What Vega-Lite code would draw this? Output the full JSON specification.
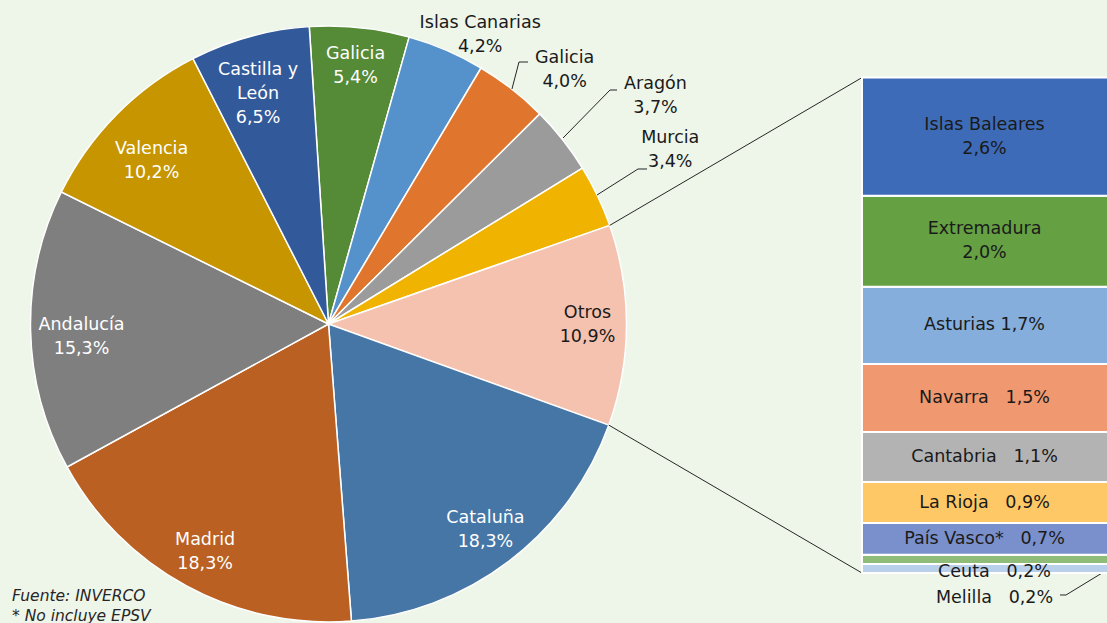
{
  "$schema": "https://vega.github.io/schema/vega-lite/v6.json",
  "width": 1107,
  "height": 623,
  "padding": 0,
  "autosize": {"type": "none"},
  "background": "#eef5e9",
  "config": {"view": {"stroke": null}, "text": {"font": "DejaVu Sans"}},
  "datasets": {
    "pie": [
      {"id": 1, "name": "Galicia", "value": 5.4, "label": "Galicia\n5,4%"},
      {"id": 2, "name": "Islas Canarias", "value": 4.2, "label": "Islas Canarias\n4,2%"},
      {"id": 3, "name": "Galicia", "value": 4.0, "label": "Galicia\n4,0%"},
      {"id": 4, "name": "Aragón", "value": 3.7, "label": "Aragón\n3,7%"},
      {"id": 5, "name": "Murcia", "value": 3.4, "label": "Murcia\n3,4%"},
      {"id": 6, "name": "Otros", "value": 10.9, "label": "Otros\n10,9%"},
      {"id": 7, "name": "Cataluña", "value": 18.3, "label": "Cataluña\n18,3%"},
      {"id": 8, "name": "Madrid", "value": 18.3, "label": "Madrid\n18,3%"},
      {"id": 9, "name": "Andalucía", "value": 15.3, "label": "Andalucía\n15,3%"},
      {"id": 10, "name": "Valencia", "value": 10.2, "label": "Valencia\n10,2%"},
      {"id": 11, "name": "Castilla y León", "value": 6.5, "label": "Castilla y\nLeón\n6,5%"}
    ],
    "bar": [
      {"id": 1, "name": "Melilla", "value": 0.2, "label": "Melilla\u00a0\u00a0 0,2%"},
      {"id": 2, "name": "Ceuta", "value": 0.2, "label": "Ceuta\u00a0\u00a0 0,2%"},
      {"id": 3, "name": "País Vasco*", "value": 0.7, "label": "País Vasco*\u00a0\u00a0 0,7%"},
      {"id": 4, "name": "La Rioja", "value": 0.9, "label": "La Rioja\u00a0\u00a0 0,9%"},
      {"id": 5, "name": "Cantabria", "value": 1.1, "label": "Cantabria\u00a0\u00a0 1,1%"},
      {"id": 6, "name": "Navarra", "value": 1.5, "label": "Navarra\u00a0\u00a0 1,5%"},
      {"id": 7, "name": "Asturias", "value": 1.7, "label": "Asturias 1,7%"},
      {"id": 8, "name": "Extremadura", "value": 2.0, "label": "Extremadura\n2,0%"},
      {"id": 9, "name": "Islas Baleares", "value": 2.6, "label": "Islas Baleares\n2,6%"}
    ],
    "lines": [
      {"g": "top", "i": 0, "u": 6.187, "v": 7.648},
      {"g": "top", "i": 1, "u": 11.738, "v": 10.9},
      {"g": "bot", "i": 0, "u": 6.167, "v": 3.254},
      {"g": "bot", "i": 1, "u": 11.738, "v": 0},
      {"g": "gal", "i": 0, "u": 4.037, "v": 10.649},
      {"g": "gal", "i": 1, "u": 4.191, "v": 11.243},
      {"g": "gal", "i": 2, "u": 4.389, "v": 11.243},
      {"g": "ara", "i": 0, "u": 5.160, "v": 9.571},
      {"g": "ara", "i": 1, "u": 6.194, "v": 10.627},
      {"g": "ara", "i": 2, "u": 6.348, "v": 10.627},
      {"g": "mur", "i": 0, "u": 5.908, "v": 8.317},
      {"g": "mur", "i": 1, "u": 6.810, "v": 8.889},
      {"g": "mur", "i": 2, "u": 7.008, "v": 8.889},
      {"g": "mel", "i": 0, "u": 16.095, "v": -0.484},
      {"g": "mel", "i": 1, "u": 16.227, "v": -0.484},
      {"g": "mel", "i": 2, "u": 17.129, "v": 0.066}
    ]
  },
  "resolve": {"scale": {"color": "independent"}},
  "layer": [
    {
      "data": {"name": "pie"},
      "transform": [{"stack": "value", "groupby": [], "sort": [{"field": "id", "order": "ascending"}], "as": ["p0", "p1"]}],
      "mark": {"type": "arc", "outerRadius": 298, "stroke": "white", "strokeWidth": 1.5},
      "encoding": {
        "x": {"datum": 0, "type": "quantitative", "scale": {"domain": [-7.2277, 17.1287], "nice": false, "zero": false}, "axis": null},
        "y": {"datum": 5.4785, "type": "quantitative", "scale": {"domain": [-1.1001, 12.6073], "nice": false, "zero": false}, "axis": null},
        "theta": {"field": "p0", "type": "quantitative", "stack": null, "scale": {"domain": [0, 100.2], "range": [-0.0646, 6.2186], "nice": false, "zero": true}},
        "theta2": {"field": "p1"},
        "color": {"field": "id", "type": "nominal", "legend": null,
          "scale": {"domain": [1, 2, 3, 4, 5, 6, 7, 8, 9, 10, 11],
            "range": ["#558a37", "#5592cb", "#e0762e", "#9b9b9b", "#f0b400", "#f5c2b0", "#4676a5", "#ba6022", "#7f7f7f", "#c69500", "#325a9a"]}}
      }
    },
    {
      "data": {"name": "lines"},
      "mark": {"type": "line", "color": "#262626", "strokeWidth": 1},
      "encoding": {
        "x": {"field": "u", "type": "quantitative", "scale": {"domain": [-7.2277, 17.1287], "nice": false, "zero": false}, "axis": null},
        "y": {"field": "v", "type": "quantitative", "scale": {"domain": [-1.1001, 12.6073], "nice": false, "zero": false}, "axis": null},
        "detail": {"field": "g"},
        "order": {"field": "i", "type": "quantitative"}
      }
    },
    {
      "data": {"name": "pie"},
      "transform": [
        {"stack": "value", "groupby": [], "sort": [{"field": "id", "order": "ascending"}], "as": ["p0", "p1"]},
        {"calculate": "(datum.p0 + datum.p1) / 2", "as": "pm"},
        {"filter": "indexof([1, 6, 7, 8], datum.id) >= 0"}
      ],
      "mark": {"type": "text", "radius": 259, "dy": -12, "lineBreak": "\n", "lineHeight": 24, "fontSize": 17.5, "align": "center", "baseline": "middle"},
      "encoding": {
        "x": {"datum": 0, "type": "quantitative", "scale": {"domain": [-7.2277, 17.1287], "nice": false, "zero": false}, "axis": null},
        "y": {"datum": 5.4785, "type": "quantitative", "scale": {"domain": [-1.1001, 12.6073], "nice": false, "zero": false}, "axis": null},
        "theta": {"field": "pm", "type": "quantitative", "stack": null},
        "text": {"field": "label"},
        "color": {"condition": {"test": "datum.id == 6", "value": "#1a1a1a"}, "value": "white"}
      }
    },
    {
      "data": {"name": "pie"},
      "transform": [
        {"stack": "value", "groupby": [], "sort": [{"field": "id", "order": "ascending"}], "as": ["p0", "p1"]},
        {"calculate": "(datum.p0 + datum.p1) / 2", "as": "pm"},
        {"filter": "indexof([9, 10], datum.id) >= 0"}
      ],
      "mark": {"type": "text", "radius": 243, "dx": -4, "dy": -4, "lineBreak": "\n", "lineHeight": 24, "fontSize": 17.5, "align": "center", "baseline": "middle", "color": "white"},
      "encoding": {
        "x": {"datum": 0, "type": "quantitative", "scale": {"domain": [-7.2277, 17.1287], "nice": false, "zero": false}, "axis": null},
        "y": {"datum": 5.4785, "type": "quantitative", "scale": {"domain": [-1.1001, 12.6073], "nice": false, "zero": false}, "axis": null},
        "theta": {"field": "pm", "type": "quantitative", "stack": null},
        "text": {"field": "label"}
      }
    },
    {
      "data": {"name": "pie"},
      "transform": [
        {"stack": "value", "groupby": [], "sort": [{"field": "id", "order": "ascending"}], "as": ["p0", "p1"]},
        {"calculate": "(datum.p0 + datum.p1) / 2", "as": "pm"},
        {"filter": "datum.id == 11"}
      ],
      "mark": {"type": "text", "radius": 243, "dx": -6, "dy": -20, "lineBreak": "\n", "lineHeight": 24, "fontSize": 17.5, "align": "center", "baseline": "middle", "color": "white"},
      "encoding": {
        "x": {"datum": 0, "type": "quantitative", "scale": {"domain": [-7.2277, 17.1287], "nice": false, "zero": false}, "axis": null},
        "y": {"datum": 5.4785, "type": "quantitative", "scale": {"domain": [-1.1001, 12.6073], "nice": false, "zero": false}, "axis": null},
        "theta": {"field": "pm", "type": "quantitative", "stack": null},
        "text": {"field": "label"}
      }
    },
    {
      "data": {"name": "pie"},
      "transform": [
        {"stack": "value", "groupby": [], "sort": [{"field": "id", "order": "ascending"}], "as": ["p0", "p1"]},
        {"calculate": "(datum.p0 + datum.p1) / 2", "as": "pm"},
        {"filter": "datum.id == 2"}
      ],
      "mark": {"type": "text", "radius": 316, "dx": 27, "dy": -11, "lineBreak": "\n", "lineHeight": 24, "fontSize": 17.5, "align": "center", "baseline": "middle", "color": "#1a1a1a"},
      "encoding": {
        "x": {"datum": 0, "type": "quantitative", "scale": {"domain": [-7.2277, 17.1287], "nice": false, "zero": false}, "axis": null},
        "y": {"datum": 5.4785, "type": "quantitative", "scale": {"domain": [-1.1001, 12.6073], "nice": false, "zero": false}, "axis": null},
        "theta": {"field": "pm", "type": "quantitative", "stack": null},
        "text": {"field": "label"}
      }
    },
    {
      "data": {"name": "pie"},
      "transform": [
        {"stack": "value", "groupby": [], "sort": [{"field": "id", "order": "ascending"}], "as": ["p0", "p1"]},
        {"calculate": "(datum.p0 + datum.p1) / 2", "as": "pm"},
        {"filter": "datum.id == 3"}
      ],
      "mark": {"type": "text", "radius": 322, "dx": 38, "dy": -12, "lineBreak": "\n", "lineHeight": 24, "fontSize": 17.5, "align": "center", "baseline": "middle", "color": "#1a1a1a"},
      "encoding": {
        "x": {"datum": 0, "type": "quantitative", "scale": {"domain": [-7.2277, 17.1287], "nice": false, "zero": false}, "axis": null},
        "y": {"datum": 5.4785, "type": "quantitative", "scale": {"domain": [-1.1001, 12.6073], "nice": false, "zero": false}, "axis": null},
        "theta": {"field": "pm", "type": "quantitative", "stack": null},
        "text": {"field": "label"}
      }
    },
    {
      "data": {"name": "pie"},
      "transform": [
        {"stack": "value", "groupby": [], "sort": [{"field": "id", "order": "ascending"}], "as": ["p0", "p1"]},
        {"calculate": "(datum.p0 + datum.p1) / 2", "as": "pm"},
        {"filter": "datum.id == 4"}
      ],
      "mark": {"type": "text", "radius": 369, "dx": 37, "dy": -12, "lineBreak": "\n", "lineHeight": 24, "fontSize": 17.5, "align": "center", "baseline": "middle", "color": "#1a1a1a"},
      "encoding": {
        "x": {"datum": 0, "type": "quantitative", "scale": {"domain": [-7.2277, 17.1287], "nice": false, "zero": false}, "axis": null},
        "y": {"datum": 5.4785, "type": "quantitative", "scale": {"domain": [-1.1001, 12.6073], "nice": false, "zero": false}, "axis": null},
        "theta": {"field": "pm", "type": "quantitative", "stack": null},
        "text": {"field": "label"}
      }
    },
    {
      "data": {"name": "pie"},
      "transform": [
        {"stack": "value", "groupby": [], "sort": [{"field": "id", "order": "ascending"}], "as": ["p0", "p1"]},
        {"calculate": "(datum.p0 + datum.p1) / 2", "as": "pm"},
        {"filter": "datum.id == 5"}
      ],
      "mark": {"type": "text", "radius": 405, "dx": -24, "dy": -12, "lineBreak": "\n", "lineHeight": 24, "fontSize": 17.5, "align": "center", "baseline": "middle", "color": "#1a1a1a"},
      "encoding": {
        "x": {"datum": 0, "type": "quantitative", "scale": {"domain": [-7.2277, 17.1287], "nice": false, "zero": false}, "axis": null},
        "y": {"datum": 5.4785, "type": "quantitative", "scale": {"domain": [-1.1001, 12.6073], "nice": false, "zero": false}, "axis": null},
        "theta": {"field": "pm", "type": "quantitative", "stack": null},
        "text": {"field": "label"}
      }
    },
    {
      "data": {"name": "bar"},
      "transform": [{"stack": "value", "groupby": [], "sort": [{"field": "id", "order": "ascending"}], "as": ["v0", "v1"]}],
      "mark": {"type": "rect", "stroke": "white", "strokeWidth": 2},
      "encoding": {
        "x": {"datum": 11.738, "type": "quantitative", "scale": {"domain": [-7.2277, 17.1287], "nice": false, "zero": false}, "axis": null},
        "x2": {"datum": 17.3},
        "y": {"field": "v0", "type": "quantitative", "scale": {"domain": [-1.1001, 12.6073], "nice": false, "zero": false}, "axis": null},
        "y2": {"field": "v1"},
        "color": {"field": "name", "type": "nominal", "legend": null,
          "scale": {"domain": ["Islas Baleares", "Extremadura", "Asturias", "Navarra", "Cantabria", "La Rioja", "País Vasco*", "Ceuta", "Melilla"],
            "range": ["#3e6bb7", "#65a043", "#85aedc", "#f0986f", "#b3b3b3", "#ffc866", "#7a90cc", "#8fbc78", "#b8d0ea"]}}
      }
    },
    {
      "data": {"name": "bar"},
      "transform": [
        {"stack": "value", "groupby": [], "sort": [{"field": "id", "order": "ascending"}], "as": ["v0", "v1"]},
        {"calculate": "(datum.v0 + datum.v1) / 2", "as": "vm"},
        {"filter": "datum.id >= 8"}
      ],
      "mark": {"type": "text", "dy": -12, "lineBreak": "\n", "lineHeight": 24, "fontSize": 17.5, "align": "center", "baseline": "middle", "color": "#1a1a1a"},
      "encoding": {
        "x": {"datum": 14.434, "type": "quantitative", "scale": {"domain": [-7.2277, 17.1287], "nice": false, "zero": false}, "axis": null},
        "y": {"field": "vm", "type": "quantitative", "scale": {"domain": [-1.1001, 12.6073], "nice": false, "zero": false}, "axis": null},
        "text": {"field": "label"}
      }
    },
    {
      "data": {"name": "bar"},
      "transform": [
        {"stack": "value", "groupby": [], "sort": [{"field": "id", "order": "ascending"}], "as": ["v0", "v1"]},
        {"calculate": "(datum.v0 + datum.v1) / 2", "as": "vm"},
        {"filter": "datum.id >= 3 && datum.id <= 7"}
      ],
      "mark": {"type": "text", "fontSize": 17.5, "align": "center", "baseline": "middle", "color": "#1a1a1a"},
      "encoding": {
        "x": {"datum": 14.434, "type": "quantitative", "scale": {"domain": [-7.2277, 17.1287], "nice": false, "zero": false}, "axis": null},
        "y": {"field": "vm", "type": "quantitative", "scale": {"domain": [-1.1001, 12.6073], "nice": false, "zero": false}, "axis": null},
        "text": {"field": "label"}
      }
    },
    {
      "data": {"name": "bar"},
      "transform": [
        {"stack": "value", "groupby": [], "sort": [{"field": "id", "order": "ascending"}], "as": ["v0", "v1"]},
        {"calculate": "(datum.v0 + datum.v1) / 2", "as": "vm"},
        {"filter": "datum.id == 2"}
      ],
      "mark": {"type": "text", "dx": 10, "dy": 13, "fontSize": 17.5, "align": "center", "baseline": "middle", "color": "#1a1a1a"},
      "encoding": {
        "x": {"datum": 14.434, "type": "quantitative", "scale": {"domain": [-7.2277, 17.1287], "nice": false, "zero": false}, "axis": null},
        "y": {"field": "vm", "type": "quantitative", "scale": {"domain": [-1.1001, 12.6073], "nice": false, "zero": false}, "axis": null},
        "text": {"field": "label"}
      }
    },
    {
      "data": {"name": "bar"},
      "transform": [
        {"stack": "value", "groupby": [], "sort": [{"field": "id", "order": "ascending"}], "as": ["v0", "v1"]},
        {"calculate": "(datum.v0 + datum.v1) / 2", "as": "vm"},
        {"filter": "datum.id == 1"}
      ],
      "mark": {"type": "text", "dx": 10, "dy": 30, "fontSize": 17.5, "align": "center", "baseline": "middle", "color": "#1a1a1a"},
      "encoding": {
        "x": {"datum": 14.434, "type": "quantitative", "scale": {"domain": [-7.2277, 17.1287], "nice": false, "zero": false}, "axis": null},
        "y": {"field": "vm", "type": "quantitative", "scale": {"domain": [-1.1001, 12.6073], "nice": false, "zero": false}, "axis": null},
        "text": {"field": "label"}
      }
    },
    {
      "data": {"values": [{"note": "Fuente: INVERCO\n* No incluye EPSV"}]},
      "mark": {"type": "text", "lineBreak": "\n", "lineHeight": 20, "fontSize": 15.5, "fontStyle": "italic", "align": "left", "baseline": "middle", "color": "#262626"},
      "encoding": {
        "x": {"datum": -6.964, "type": "quantitative", "scale": {"domain": [-7.2277, 17.1287], "nice": false, "zero": false}, "axis": null},
        "y": {"datum": -0.506, "type": "quantitative", "scale": {"domain": [-1.1001, 12.6073], "nice": false, "zero": false}, "axis": null},
        "text": {"field": "note"}
      }
    }
  ]
}
